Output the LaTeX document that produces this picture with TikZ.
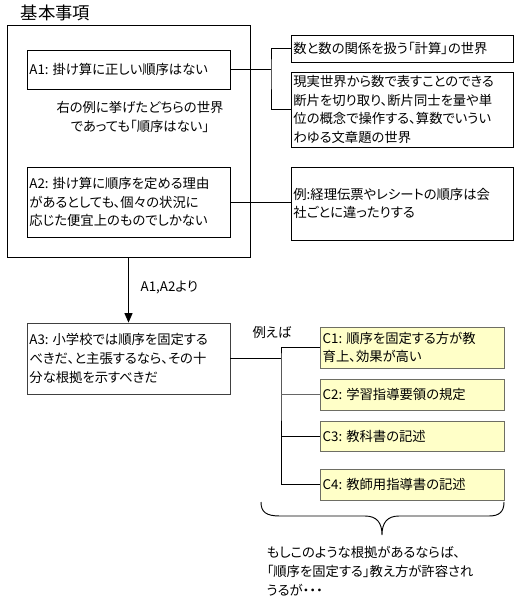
\documentclass[tikz,border=0pt]{standalone}
\usepackage{fontspec}
\setmainfont{Noto Sans CJK JP}[RawFeature=+palt]
\usetikzlibrary{arrows.meta}
\definecolor{cfill}{RGB}{255,255,200}
\definecolor{cedge}{RGB}{110,110,100}
\newcommand{\lsp}{\hspace{0.3em}}
\tikzset{
  txt/.style={font=\fontsize{10pt}{14pt}\selectfont},
  abox/.style={txt, draw=black, line width=0.7pt, align=left, inner xsep=1.8pt, inner ysep=0pt},
  cbox/.style={abox, draw=cedge, fill=cfill, text width=134pt, inner xsep=2pt},
  link/.style={draw=black, line width=0.7pt},
}
\begin{document}
\begin{tikzpicture}[x=0.75pt,y=-0.75pt]
\useasboundingbox (0,0) rectangle (522,601);
% title
\node[font=\fontsize{13pt}{15pt}\selectfont, anchor=west] (title) at (16,13) {基本事項};
% outer frame
\node[draw=black, line width=0.7pt, minimum width=182.25pt, minimum height=174pt, inner sep=0pt] (outer) at (128.5,141) {};
% A boxes
\node[abox, text width=148.65pt, minimum height=29.25pt] (a1) at (128.5,69.5) {A1:\lsp 掛け算に正しい順序はない};
\node[txt, align=center] (note) at (140,117) {右の例に挙げたどちらの世界\\であっても「順序はない」};
\node[abox, text width=148.65pt, minimum height=52.5pt] (a2) at (128.5,202) {A2:\lsp 掛け算に順序を定める理由\\があるとしても、個々の状況に\\応じた便宜上のものでしかない};
\node[abox, draw=black!75, text width=148.65pt, minimum height=53.25pt] (a3) at (128.5,358.5) {A3:\lsp 小学校では順序を固定する\\べきだ、と主張するなら、その十\\分な根拠を示すべきだ};
% right boxes
\node[abox, text width=162.9pt, minimum height=20.25pt] (r1) at (402,48.5) {数と数の関係を扱う「計算」の世界};
\node[abox, text width=162.9pt, minimum height=56.25pt] (r2) at (402,109.5) {現実世界から数で表すことのできる\\断片を切り取り、断片同士を量や単\\位の概念で操作する、算数でいうい\\わゆる文章題の世界};
\node[abox, text width=162.9pt, minimum height=54.75pt] (r3) at (402,203.5) {例:経理伝票やレシートの順序は会\\社ごとに違ったりする};
% C boxes
\node[cbox, minimum height=30.75pt] (c1) at (412,347.5) {C1:\lsp 順序を固定する方が教\\育上、効果が高い};
\node[cbox, minimum height=23.25pt] (c2) at (412,394.5) {C2:\lsp 学習指導要領の規定};
\node[cbox, minimum height=22.5pt] (c3) at (412,436) {C3:\lsp 教科書の記述};
\node[cbox, minimum height=23.25pt] (c4) at (412,484.5) {C4:\lsp 教師用指導書の記述};
% labels
\node[txt, anchor=west] (via) at (136,287) {A1,A2より};
\node[txt] (eg) at (272,332) {例えば};
\node[txt, anchor=north west, align=left] (concl) at (262,542) {もしこのような根拠があるならば、\\「順序を固定する」教え方が許容され\\うるが・・・};
% connectors
\coordinate (j1) at (271,69.5);
\draw[link] (a1.east) -- (j1);
\draw[link] (r1.west) -| (j1) |- (r2.west);
\draw[link] (a2.east) -- (a2.east -| r3.west);
\draw[link, -{Triangle[width=6pt,length=7pt]}] (outer.south) -- (a3.north);
\coordinate (j2) at (281,358.5);
\draw[link] (a3.east) -- (j2);
\draw[link] (c1.west) -| (j2) |- (c4.west);
\draw[link, draw=black!60] (j2 |- c2.west) -- (c2.west);
\draw[link] (j2 |- c3.west) -- (c3.west);
% brace
\draw[line width=0.7pt] (261,502) .. controls (261,512) and (266,516) .. (280,516)
  -- (365,516) .. controls (377,516) and (382,523) .. (382,535)
  .. controls (382,523) and (387,516) .. (399,516)
  -- (489,516) .. controls (499,516) and (504,512) .. (504,502);
\end{tikzpicture}
\end{document}
